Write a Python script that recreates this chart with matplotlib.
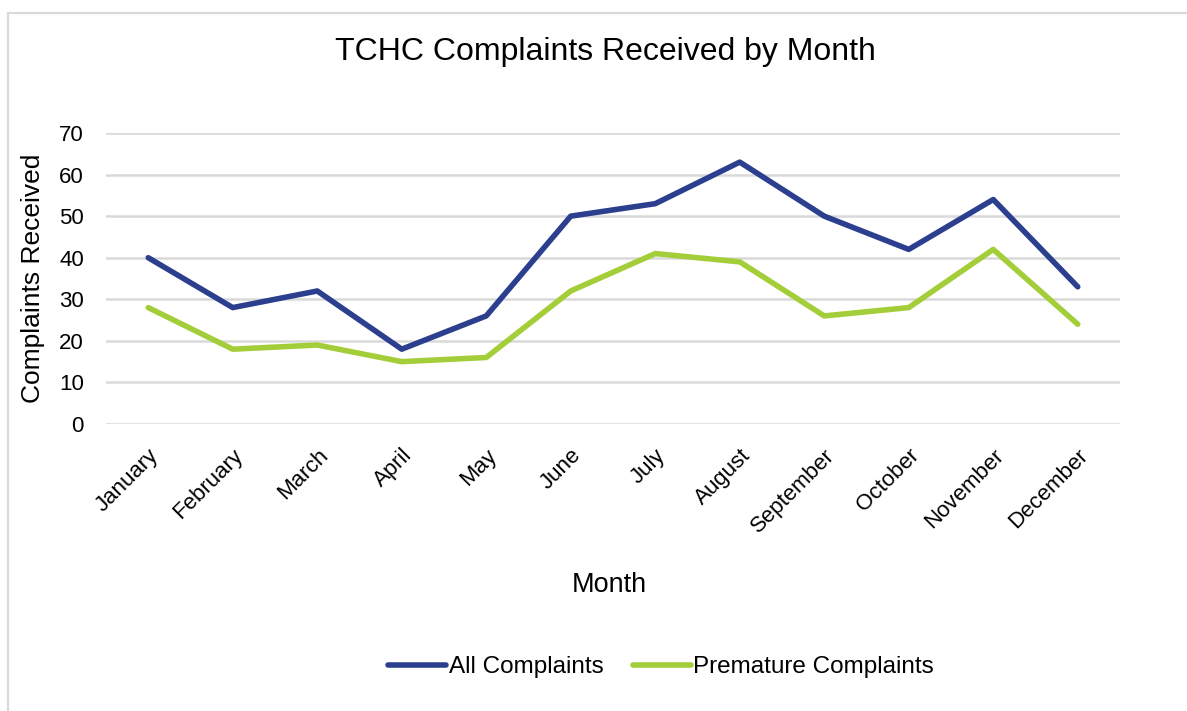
import matplotlib.pyplot as plt
from matplotlib.patches import Rectangle

plt.rcParams['font.family'] = ['Liberation Sans', 'DejaVu Sans']

months = ['January', 'February', 'March', 'April', 'May', 'June', 'July',
          'August', 'September', 'October', 'November', 'December']
all_complaints = [40, 28, 32, 18, 26, 50, 53, 63, 50, 42, 54, 33]
premature_complaints = [28, 18, 19, 15, 16, 32, 41, 39, 26, 28, 42, 24]
y_ticks = [0, 10, 20, 30, 40, 50, 60, 70]

fig = plt.figure(figsize=(11.87, 7.11), dpi=100)

# light frame round the chart area (cropped at right and bottom)
W, H = 1187, 711
fig.patches.append(Rectangle((8 / W, -0.1), 1.2, (H - 13) / H + 0.1,
                             transform=fig.transFigure, fill=False,
                             edgecolor='#d9d9d9', linewidth=1.6))

ax = fig.add_axes([106 / W, 1 - 424 / H, (1120 - 106) / W, (424 - 133) / H])
x = list(range(len(months)))
ax.plot(x, all_complaints, color='#2B3F8E', linewidth=4,
        solid_capstyle='round', solid_joinstyle='round', label='All Complaints', clip_on=False)
ax.plot(x, premature_complaints, color='#A4CE39', linewidth=4,
        solid_capstyle='round', solid_joinstyle='round', label='Premature Complaints', clip_on=False)

ax.set_xlim(-0.5, 11.5)
ax.set_ylim(0, 70)
ax.set_yticks(y_ticks)
ax.set_xticks(x)
ax.set_xticklabels(months, rotation=45, ha='right', rotation_mode='anchor', fontsize=16)
ax.tick_params(axis='y', labelsize=16, length=0, pad=16)
ax.tick_params(axis='x', length=0, pad=15)
ax.grid(axis='y', color='#d9d9d9', linewidth=1.8)
ax.set_axisbelow(True)
for s in ax.spines.values():
    s.set_visible(False)

ax.set_ylabel('Complaints Received', fontsize=19, labelpad=10)
fig.text(609 / W, 1 - 585 / H, 'Month', fontsize=19.5, ha='center', va='center')
fig.text(605 / W, 1 - 52 / H, 'TCHC Complaints Received by Month', fontsize=23,
         ha='center', va='center')

fig.legend(loc='center', bbox_to_anchor=(661 / W, 1 - 667 / H), ncol=2, frameon=False,
           fontsize=17.5, handlelength=2.4, handletextpad=0.1, columnspacing=1.2)

fig.savefig('out.png', dpi=100)
